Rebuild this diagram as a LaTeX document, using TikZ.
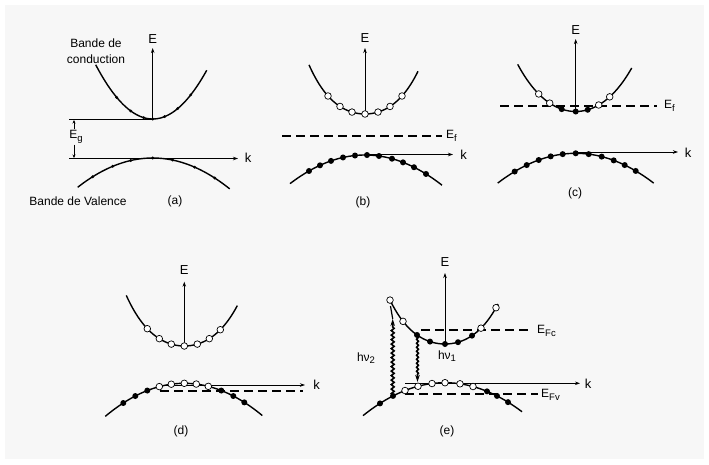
\documentclass[tikz,border=0pt]{standalone}
\usepackage{fontspec}
\setmainfont{Liberation Sans}
\usetikzlibrary{arrows.meta,decorations.pathmorphing}

% y = y0 + A x^2 + B (x/10)^4
\newcommand{\bandcurve}[6]{\draw[bandline] plot[domain=#5:#6,samples=70,smooth] ({#1+(\x)},{#2+(#3)*(\x)*(\x)+(#4)*((\x)/10)^4});}
\newcommand{\fulldots}[6]{\foreach \q in {#5}{\fill ({#1+(\q)},{#2+(#3)*(\q)*(\q)+(#4)*((\q)/10)^4}) circle[radius=#6];}}
\newcommand{\emptydots}[5]{\foreach \q in {#5}{\draw[holedot] ({#1+(\q)},{#2+(#3)*(\q)*(\q)+(#4)*((\q)/10)^4}) circle[radius=3.3pt];}}
\newcommand{\lowidx}[1]{\raisebox{-0.4ex}{\fontsize{9.5}{10}\selectfont #1}}

\begin{document}
\begin{tikzpicture}[x=1pt,y=-1pt,
  bandline/.style={line width=1.4pt},
  axisline/.style={line width=0.8pt},
  axisarrow/.style={axisline,-{Stealth[length=5pt,width=3.5pt]}},
  smallarrow/.style={line width=0.7pt,-{Stealth[length=3.5pt,width=3pt]}},
  fermi/.style={line width=1.2pt,dash pattern=on 9pt off 5pt},
  holedot/.style={line width=0.7pt,fill=white},
  lbl/.style={font=\fontsize{12}{16}\selectfont,inner sep=0pt},
  axlbl/.style={font=\fontsize{13}{15}\selectfont,inner sep=0pt},
  wavy/.style={line width=1.6pt,decorate,decoration={snake,amplitude=1.4pt,segment length=4.5pt,post length=7pt}},
  wavyarrow/.style={wavy,-{Stealth[length=7pt,width=4.5pt]}}]
\useasboundingbox (0,0) rectangle (709,464);
\fill[white] (0,0) rectangle (709,464);
\fill[black!3] (5,5) rectangle (704,459);

% ---------------- (a)
\bandcurve{152.7}{119}{-0.0167}{0}{-57}{54}
\bandcurve{152.7}{158}{0.0052}{0}{-75}{77}
\fulldots{152.7}{119}{-0.0167}{0}{-36,-22,-9,0,12,25,38}{1.6pt}
\fulldots{152.7}{158}{0.0052}{0}{-60,-40,-22,0,20,42,62}{1.6pt}
\coordinate (aEb) at (152.7,119);
\coordinate (aEt) at (152.7,48);
\coordinate (aL) at (69,119);
\coordinate (aK0) at (69,158.5);
\coordinate (aK1) at (238,158.5);
\draw[axisarrow] (aEb) -- (aEt);
\draw[axisline] (aL) -- (aEb);
\draw[axisarrow] (aK0) -- (aK1);
\node[axlbl] (aE) at (152.7,39) {E};
\node[axlbl] (ak) at (248,158) {k};
\node[lbl] (aEg) at (76,137) {E\lowidx{g}};
\coordinate (aGu) at (74,120);
\coordinate (aGd) at (74,158);
\draw[smallarrow] (aEg.north -| aGu) ++(0,-1) -- (aGu);
\draw[smallarrow] (aEg.south -| aGd) ++(0,1) -- (aGd);
\node[lbl,align=center] (aCond) at (96,51) {Bande de\\conduction};
\node[lbl] (aVal) at (78,201) {Bande de Valence};
\node[lbl] (aCap) at (175,201) {(a)};

% ---------------- (b)
\bandcurve{365}{114}{-0.0112}{-0.0143}{-56}{53}
\bandcurve{365}{155}{0.0051}{0}{-75}{77}
\coordinate (bEb) at (365,114);
\coordinate (bEt) at (365,48);
\coordinate (bK0) at (365,154.5);
\coordinate (bK1) at (453,154.5);
\coordinate (bF0) at (282,136);
\coordinate (bF1) at (442,136);
\draw[axisarrow] (bEb) -- (bEt);
\draw[axisarrow] (bK0) -- (bK1);
\draw[fermi] (bF0) -- (bF1);
\emptydots{365}{114}{-0.0112}{-0.0143}{-37,-25,-13,0,13,25,37}
\fulldots{365}{155}{0.0051}{0}{-56,-45,-34,-22,-10,2,14,27,38,49,61}{3pt}
\node[axlbl] (bE) at (365,38) {E};
\node[axlbl] (bk) at (463.5,155) {k};
\node[lbl,anchor=west] (bEf) at (446,136) {E\lowidx{f}};
\node[lbl] (bCap) at (363,202) {(b)};

% ---------------- (c)
\bandcurve{575.7}{111.5}{-0.012}{-0.006}{-58}{56}
\bandcurve{575.7}{153.3}{0.0049}{0}{-78}{78}
\coordinate (cEb) at (575.7,111.5);
\coordinate (cEt) at (575.7,39);
\coordinate (cK0) at (575.7,152);
\coordinate (cK1) at (678,152);
\coordinate (cF0) at (500,106);
\coordinate (cF1) at (657,106);
\draw[axisarrow] (cEb) -- (cEt);
\draw[axisarrow] (cK0) -- (cK1);
\draw[fermi] (cF0) -- (cF1);
\emptydots{575.7}{111.5}{-0.012}{-0.006}{-37,-26,23,34}
\fulldots{575.7}{111.5}{-0.012}{-0.006}{-14,0,12}{3pt}
\fulldots{575.7}{153.3}{0.0049}{0}{-61,-49,-37,-25,-13,0,13,26,38,49,60}{3pt}
\node[axlbl] (cE) at (575.7,30) {E};
\node[axlbl] (ck) at (688,153) {k};
\node[lbl,anchor=west] (cEf) at (664,106) {E\lowidx{f}};
\node[lbl] (cCap) at (575,193) {(c)};

% ---------------- (d)
\bandcurve{184.3}{346}{-0.011}{-0.012}{-58}{53}
\bandcurve{184.3}{383.3}{0.0053}{0}{-79}{78}
\coordinate (dEb) at (184.3,346);
\coordinate (dEt) at (184.3,281.7);
\coordinate (dK0) at (160,385);
\coordinate (dK1) at (305,385);
\coordinate (dF0) at (160,391);
\coordinate (dF1) at (303,391);
\draw[axisarrow] (dEb) -- (dEt);
\draw[fermi] (dF0) -- (dF1);
\draw[axisarrow] (dK0) -- (dK1);
\emptydots{184.3}{346}{-0.011}{-0.012}{-37,-25,-13,0,13,25,36}
\emptydots{184.3}{383.3}{0.0053}{0}{-25,-13,0,12,24}
\fulldots{184.3}{383.3}{0.0053}{0}{-61,-49,-37,37,49,60}{3pt}
\node[axlbl] (dE) at (184.3,270) {E};
\node[axlbl] (dk) at (316.7,385) {k};
\node[lbl] (dCap) at (181,431) {(d)};

% ---------------- (e)
\bandcurve{445}{344}{-0.0105}{-0.0133}{-56}{53}
\bandcurve{445}{382.7}{0.0049}{0}{-82}{77}
\coordinate (eEb) at (445,344);
\coordinate (eEt) at (445,273);
\coordinate (eK0) at (405,383.3);
\coordinate (eK1) at (580,383.3);
\coordinate (eC0) at (421,330);
\coordinate (eC1) at (531,330);
\coordinate (eV0) at (405,394);
\coordinate (eV1) at (538,394);
\draw[axisarrow] (eEb) -- (eEt);
\draw[fermi] (eC0) -- (eC1);
\draw[fermi] (eV0) -- (eV1);
\draw[axisarrow] (eK0) -- (eK1);
% transitions
\coordinate (eT2a) at (392.7,395);
\coordinate (eT2b) at (392.7,319);
\coordinate (eT2c) at (390.5,306);
\coordinate (eT1a) at (417.5,336);
\coordinate (eT1b) at (417.5,382);
\draw[wavyarrow] (eT2a) -- (eT2b);
\draw[line width=1.2pt] (eT2b) -- (eT2c);
\draw[wavyarrow,decoration={snake,amplitude=0.9pt,segment length=4pt,post length=7pt}] (eT1a) -- (eT1b);
\emptydots{445}{344}{-0.0105}{-0.0133}{-55,-42,36,51}
\fulldots{445}{344}{-0.0105}{-0.0133}{-28,-15,0,13,27}{3pt}
\emptydots{445}{382.7}{0.0049}{0}{-40,-27,-13,0,15,28}
\fulldots{445}{382.7}{0.0049}{0}{-65,-52,42,52,63}{3pt}
\node[axlbl] (eE) at (445,262) {E};
\node[axlbl] (ek) at (588,384) {k};
\node[lbl,anchor=west] (eEFc) at (537,331) {E\lowidx{Fc}};
\node[lbl,anchor=west] (eEFv) at (541,395) {E\lowidx{Fv}};
\node[lbl] (eH2) at (366,358) {hν\lowidx{2}};
\node[lbl] (eH1) at (447,356) {hν\lowidx{1}};
\node[lbl] (eCap) at (447,431) {(e)};
\end{tikzpicture}
\end{document}
